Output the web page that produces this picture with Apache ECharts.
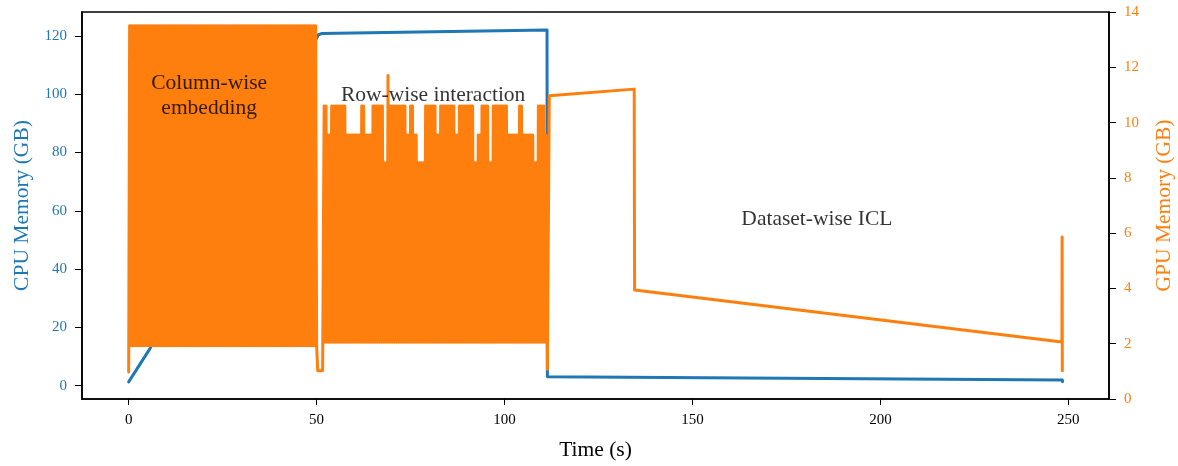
<!DOCTYPE html>
<html>
<head>
<meta charset="utf-8">
<script src="https://cdn.jsdelivr.net/npm/echarts@6/dist/echarts.min.js"></script>
<style>
  html, body { margin: 0; padding: 0; background: #fff; }
  #chart { width: 1178px; height: 466px; }
</style>
</head>
<body>
<div id="chart"></div>
<script>
// ---- Memory trace of one inference run (time in s, memory in GB) ----

// CPU memory samples
const cpuTime = [0, 5.7, 49.9, 50.5, 51.3, 111.3, 111.4, 248.4, 248.45];
const cpuMem  = [1.3, 12.8, 119.0, 120.4, 120.8, 122.0, 3.07, 1.96, 1.4];

// GPU memory, column-wise embedding stage (sampled every 0.25 s)
const colStageTime = [
  0,
  0.25, 0.5, 0.75, 1, 1.25, 1.5, 1.75, 2, 2.25, 2.5, 2.75, 3, 3.25, 3.5, 3.75, 4, 4.25, 4.5, 4.75, 5,
  5.25, 5.5, 5.75, 6, 6.25, 6.5, 6.75, 7, 7.25, 7.5, 7.75, 8, 8.25, 8.5, 8.75, 9, 9.25, 9.5, 9.75, 10,
  10.25, 10.5, 10.75, 11, 11.25, 11.5, 11.75, 12, 12.25, 12.5, 12.75, 13, 13.25, 13.5, 13.75, 14, 14.25, 14.5, 14.75, 15,
  15.25, 15.5, 15.75, 16, 16.25, 16.5, 16.75, 17, 17.25, 17.5, 17.75, 18, 18.25, 18.5, 18.75, 19, 19.25, 19.5, 19.75, 20,
  20.25, 20.5, 20.75, 21, 21.25, 21.5, 21.75, 22, 22.25, 22.5, 22.75, 23, 23.25, 23.5, 23.75, 24, 24.25, 24.5, 24.75, 25,
  25.25, 25.5, 25.75, 26, 26.25, 26.5, 26.75, 27, 27.25, 27.5, 27.75, 28, 28.25, 28.5, 28.75, 29, 29.25, 29.5, 29.75, 30,
  30.25, 30.5, 30.75, 31, 31.25, 31.5, 31.75, 32, 32.25, 32.5, 32.75, 33, 33.25, 33.5, 33.75, 34, 34.25, 34.5, 34.75, 35,
  35.25, 35.5, 35.75, 36, 36.25, 36.5, 36.75, 37, 37.25, 37.5, 37.75, 38, 38.25, 38.5, 38.75, 39, 39.25, 39.5, 39.75, 40,
  40.25, 40.5, 40.75, 41, 41.25, 41.5, 41.75, 42, 42.25, 42.5, 42.75, 43, 43.25, 43.5, 43.75, 44, 44.25, 44.5, 44.75, 45,
  45.25, 45.5, 45.75, 46, 46.25, 46.5, 46.75, 47, 47.25, 47.5, 47.75, 48, 48.25, 48.5, 48.75, 49, 49.25, 49.5, 49.75, 50
];
const colStageGpu = [
  0.98,
  13.5, 1.93, 13.5, 1.93, 13.5, 1.93, 13.5, 1.93, 13.5, 1.93, 13.5, 1.93, 13.5, 1.93, 13.5, 1.93, 13.5, 1.93, 13.5, 1.93,
  13.5, 1.93, 13.5, 1.93, 13.5, 1.93, 13.5, 1.93, 13.5, 1.93, 13.5, 1.93, 13.5, 1.93, 13.5, 1.93, 13.5, 1.93, 13.5, 1.93,
  13.5, 1.93, 13.5, 1.93, 13.5, 1.93, 13.5, 1.93, 13.5, 1.93, 13.5, 1.93, 13.5, 1.93, 13.5, 1.93, 13.5, 1.93, 13.5, 1.93,
  13.5, 1.93, 13.5, 1.93, 13.5, 1.93, 13.5, 1.93, 13.5, 1.93, 13.5, 1.93, 13.5, 1.93, 13.5, 1.93, 13.5, 1.93, 13.5, 1.93,
  13.5, 1.93, 13.5, 1.93, 13.5, 1.93, 13.5, 1.93, 13.5, 1.93, 13.5, 1.93, 13.5, 1.93, 13.5, 1.93, 13.5, 1.93, 13.5, 1.93,
  13.5, 1.93, 13.5, 1.93, 13.5, 1.93, 13.5, 1.93, 13.5, 1.93, 13.5, 1.93, 13.5, 1.93, 13.5, 1.93, 13.5, 1.93, 13.5, 1.93,
  13.5, 1.93, 13.5, 1.93, 13.5, 1.93, 13.5, 1.93, 13.5, 1.93, 13.5, 1.93, 13.5, 1.93, 13.5, 1.93, 13.5, 1.93, 13.5, 1.93,
  13.5, 1.93, 13.5, 1.93, 13.5, 1.93, 13.5, 1.93, 13.5, 1.93, 13.5, 1.93, 13.5, 1.93, 13.5, 1.93, 13.5, 1.93, 13.5, 1.93,
  13.5, 1.93, 13.5, 1.93, 13.5, 1.93, 13.5, 1.93, 13.5, 1.93, 13.5, 1.93, 13.5, 1.93, 13.5, 1.93, 13.5, 1.93, 13.5, 1.93,
  13.5, 1.93, 13.5, 1.93, 13.5, 1.93, 13.5, 1.93, 13.5, 1.93, 13.5, 1.93, 13.5, 1.93, 13.5, 1.93, 13.5, 1.93, 13.5, 1.93
];

// GPU memory, row-wise interaction stage (sampled every 0.25 s after a short idle dip)
const rowStageTime = [
  50.3, 51.6,
  52, 52.25, 52.5, 52.75, 53, 53.25, 53.5, 53.75, 54, 54.25, 54.5, 54.75, 55, 55.25, 55.5, 55.75, 56, 56.25, 56.5, 56.75,
  57, 57.25, 57.5, 57.75, 58, 58.25, 58.5, 58.75, 59, 59.25, 59.5, 59.75, 60, 60.25, 60.5, 60.75, 61, 61.25, 61.5, 61.75,
  62, 62.25, 62.5, 62.75, 63, 63.25, 63.5, 63.75, 64, 64.25, 64.5, 64.75, 65, 65.25, 65.5, 65.75, 66, 66.25, 66.5, 66.75,
  67, 67.25, 67.5, 67.75, 68, 68.25, 68.5, 68.75, 69, 69.25, 69.5, 69.75, 70, 70.25, 70.5, 70.75, 71, 71.25, 71.5, 71.75,
  72, 72.25, 72.5, 72.75, 73, 73.25, 73.5, 73.75, 74, 74.25, 74.5, 74.75, 75, 75.25, 75.5, 75.75, 76, 76.25, 76.5, 76.75,
  77, 77.25, 77.5, 77.75, 78, 78.25, 78.5, 78.75, 79, 79.25, 79.5, 79.75, 80, 80.25, 80.5, 80.75, 81, 81.25, 81.5, 81.75,
  82, 82.25, 82.5, 82.75, 83, 83.25, 83.5, 83.75, 84, 84.25, 84.5, 84.75, 85, 85.25, 85.5, 85.75, 86, 86.25, 86.5, 86.75,
  87, 87.25, 87.5, 87.75, 88, 88.25, 88.5, 88.75, 89, 89.25, 89.5, 89.75, 90, 90.25, 90.5, 90.75, 91, 91.25, 91.5, 91.75,
  92, 92.25, 92.5, 92.75, 93, 93.25, 93.5, 93.75, 94, 94.25, 94.5, 94.75, 95, 95.25, 95.5, 95.75, 96, 96.25, 96.5, 96.75,
  97, 97.25, 97.5, 97.75, 98, 98.25, 98.5, 98.75, 99, 99.25, 99.5, 99.75, 100, 100.25, 100.5, 100.75, 101, 101.25, 101.5, 101.75,
  102, 102.25, 102.5, 102.75, 103, 103.25, 103.5, 103.75, 104, 104.25, 104.5, 104.75, 105, 105.25, 105.5, 105.75, 106, 106.25, 106.5, 106.75,
  107, 107.25, 107.5, 107.75, 108, 108.25, 108.5, 108.75, 109, 109.25, 109.5, 109.75, 110, 110.25, 110.5, 110.75,
  111
];
const rowStageGpu = [
  1.02, 1.02,
  10.6, 2.05, 10.6, 2.05, 9.55, 2.05, 9.55, 2.05, 10.6, 2.05, 10.6, 2.05, 10.6, 2.05, 10.6, 2.05, 10.6, 2.05, 10.6, 2.05,
  10.6, 2.05, 10.6, 2.05, 9.55, 2.05, 9.55, 2.05, 9.55, 2.05, 9.55, 2.05, 9.55, 2.05, 9.55, 2.05, 9.55, 2.05, 9.55, 2.05,
  10.6, 2.05, 10.6, 2.05, 9.55, 2.05, 9.55, 2.05, 9.55, 2.05, 9.55, 2.05, 10.6, 2.05, 10.6, 2.05, 10.6, 2.05, 10.6, 2.05,
  10.6, 2.05, 10.6, 2.05, 8.55, 2.05, 8.55, 2.05, 11.7, 2.05, 10.6, 2.05, 10.6, 2.05, 10.6, 2.05, 10.6, 2.05, 10.6, 2.05,
  10.6, 2.05, 10.6, 2.05, 10.6, 2.05, 10.6, 2.05, 9.55, 2.05, 9.55, 2.05, 10.6, 2.05, 10.6, 2.05, 9.55, 2.05, 9.55, 2.05,
  8.55, 2.05, 8.55, 2.05, 8.55, 2.05, 8.55, 2.05, 10.6, 2.05, 10.6, 2.05, 10.6, 2.05, 10.6, 2.05, 10.6, 2.05, 10.6, 2.05,
  9.55, 2.05, 9.55, 2.05, 10.6, 2.05, 10.6, 2.05, 10.6, 2.05, 10.6, 2.05, 10.6, 2.05, 10.6, 2.05, 10.6, 2.05, 10.6, 2.05,
  9.55, 2.05, 9.55, 2.05, 10.6, 2.05, 10.6, 2.05, 10.6, 2.05, 10.6, 2.05, 10.6, 2.05, 10.6, 2.05, 10.6, 2.05, 10.6, 2.05,
  8.55, 2.05, 8.55, 2.05, 9.55, 2.05, 9.55, 2.05, 10.6, 2.05, 10.6, 2.05, 10.6, 2.05, 10.6, 2.05, 8.55, 2.05, 8.55, 2.05,
  10.6, 2.05, 10.6, 2.05, 10.6, 2.05, 10.6, 2.05, 10.6, 2.05, 10.6, 2.05, 10.6, 2.05, 10.6, 2.05, 9.55, 2.05, 9.55, 2.05,
  9.55, 2.05, 9.55, 2.05, 9.55, 2.05, 9.55, 2.05, 10.6, 2.05, 10.6, 2.05, 9.55, 2.05, 9.55, 2.05, 9.55, 2.05, 9.55, 2.05,
  9.55, 2.05, 9.55, 2.05, 8.55, 2.05, 8.55, 2.05, 10.6, 2.05, 10.6, 2.05, 10.6, 2.05, 10.6, 2.05,
  9.55
];

// GPU memory, dataset-wise ICL stage
const iclStageTime = [111.4, 111.9, 134.5, 134.6, 248.3, 248.35, 248.4];
const iclStageGpu  = [1.08, 10.97, 11.21, 3.94, 2.06, 5.86, 1.02];

// Stage annotations: [time, GPU GB, text]
const stageNotes = [
  [21.4, 10.95, 'Column-wise\nembedding'],
  [81.0, 11.0, 'Row-wise interaction'],
  [183.1, 6.5, 'Dataset-wise ICL']
];

// Axis extents
const timeRange = [-12.42, 260.82];
const cpuRange = [-4.56, 128.2];
const gpuRange = [0, 14];

const BLUE = '#1f77b4';
const ORANGE = '#ff7f0e';
const FONT = '"Liberation Serif", "DejaVu Serif", serif';

const zip = (xs, ys) => xs.map((x, i) => [x, ys[i]]);
const gpuSeries = zip(
  colStageTime.concat(rowStageTime, iclStageTime),
  colStageGpu.concat(rowStageGpu, iclStageGpu)
);

const chart = echarts.init(document.getElementById('chart'), null, { renderer: 'canvas' });

const axisLineStyle = { color: '#000', width: 1.6 };
const tickStyle = { color: '#000', width: 1 };

const option = {
  animation: false,
  backgroundColor: '#ffffff',
  grid: {
    left: 82, right: 69, top: 12, bottom: 67,
    show: true, borderColor: '#000', borderWidth: 1.6,
    backgroundColor: 'transparent',
    outerBoundsMode: 'none'
  },
  xAxis: {
    type: 'value',
    min: timeRange[0], max: timeRange[1],
    splitNumber: 5,
    name: 'Time (s)',
    nameLocation: 'middle',
    nameGap: 40,
    nameTextStyle: { fontFamily: FONT, fontSize: 21.5, color: '#000' },
    axisLine: { show: true, onZero: false, lineStyle: axisLineStyle },
    axisTick: { show: true, length: 6, lineStyle: tickStyle },
    axisLabel: {
      fontFamily: FONT, fontSize: 15, color: '#000', margin: 14,
      showMinLabel: false, showMaxLabel: false
    },
    splitLine: { show: false }
  },
  yAxis: [
    {
      type: 'value',
      position: 'left',
      min: cpuRange[0], max: cpuRange[1],
      splitNumber: 7,
      name: 'CPU Memory (GB)',
      nameLocation: 'middle',
      nameGap: 49,
      nameTextStyle: { fontFamily: FONT, fontSize: 21.5, color: BLUE },
      axisLine: { show: true, onZero: false, lineStyle: axisLineStyle },
      axisTick: { show: true, length: 7, lineStyle: tickStyle },
      axisLabel: {
        fontFamily: FONT, fontSize: 15, color: BLUE, margin: 15,
        showMinLabel: false, showMaxLabel: false
      },
      splitLine: { show: false }
    },
    {
      type: 'value',
      position: 'right',
      min: gpuRange[0], max: gpuRange[1],
      interval: 2,
      name: 'GPU Memory (GB)',
      nameLocation: 'middle',
      nameGap: 44,
      nameTextStyle: { fontFamily: FONT, fontSize: 21.5, color: ORANGE },
      axisLine: { show: true, onZero: false, lineStyle: axisLineStyle },
      axisTick: { show: true, length: 7, lineStyle: tickStyle },
      axisLabel: { fontFamily: FONT, fontSize: 15, color: ORANGE, margin: 15 },
      splitLine: { show: false }
    }
  ],
  series: [
    {
      name: 'CPU',
      type: 'line',
      yAxisIndex: 0,
      data: zip(cpuTime, cpuMem),
      showSymbol: false,
      symbol: 'none',
      lineStyle: { color: BLUE, width: 3, join: 'round', cap: 'round' },
      silent: true,
      z: 2
    },
    {
      name: 'GPU',
      type: 'line',
      yAxisIndex: 1,
      data: gpuSeries,
      showSymbol: false,
      symbol: 'none',
      lineStyle: { color: ORANGE, width: 3, join: 'round', cap: 'round' },
      silent: true,
      z: 3
    },
    {
      name: 'stages',
      type: 'scatter',
      yAxisIndex: 1,
      symbolSize: 0.1,
      itemStyle: { color: 'rgba(0,0,0,0)' },
      data: stageNotes.map(n => ({ value: [n[0], n[1]], name: n[2] })),
      label: {
        show: true,
        position: 'inside',
        formatter: '{b}',
        fontFamily: FONT,
        fontSize: 21.5,
        lineHeight: 25,
        align: 'center',
        color: '#000'
      },
      silent: true,
      z: 5
    }
  ]
};

chart.setOption(option);
</script>
</body>
</html>
